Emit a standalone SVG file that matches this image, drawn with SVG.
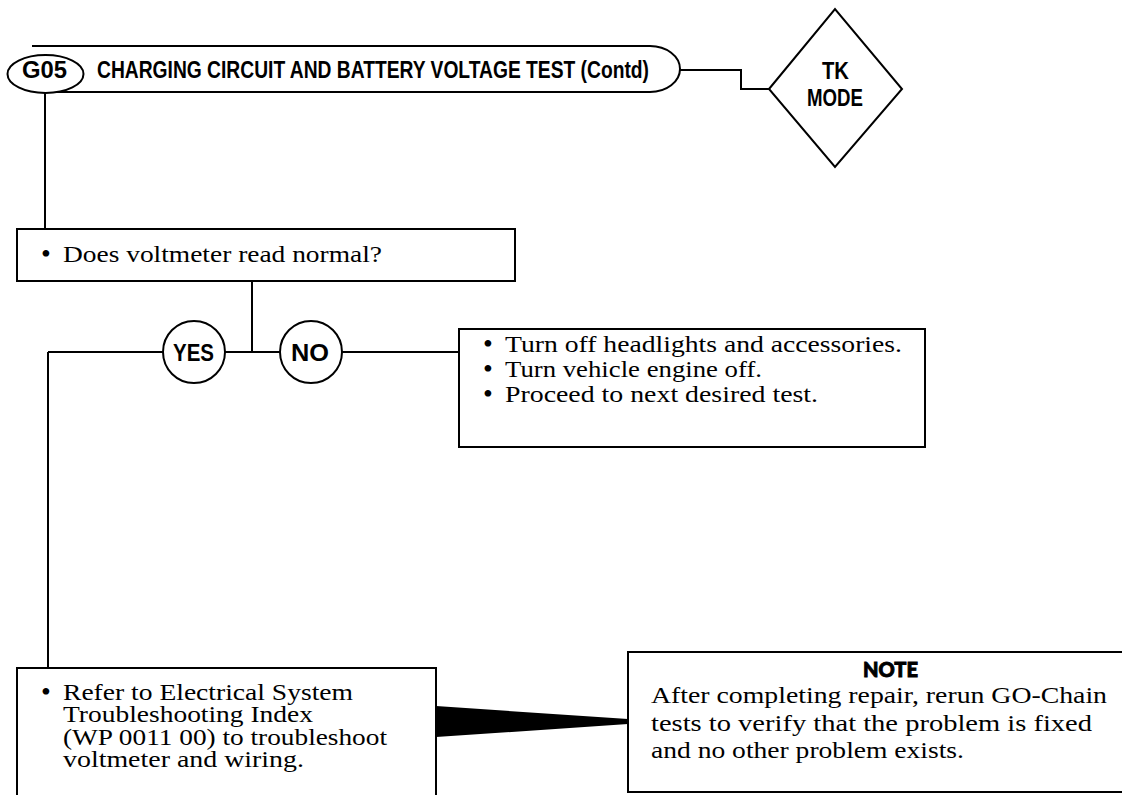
<svg xmlns="http://www.w3.org/2000/svg" width="1122" height="795" viewBox="0 0 1122 795">
<style>
.ln{fill:none;stroke:#000;stroke-width:2}
.box{fill:#fff;stroke:#000;stroke-width:2}
.hd{font-family:"Liberation Sans",Arial,sans-serif;font-weight:bold;font-size:24px;fill:#000}
.tx{font-family:"Liberation Serif","Times New Roman",serif;font-size:23px;fill:#000}
.bl{font-size:28px}
.nt{font-family:Lato,"Liberation Sans",sans-serif;font-weight:900;font-size:21px;fill:#000;stroke:#000;stroke-width:0.9}
</style>
<rect width="1122" height="795" fill="#fff"/>
<g id="connectors">
<path class="ln" d="M680 70 H741 V89 H769"/>
<path class="ln" d="M45 92 V229"/>
<path class="ln" d="M252 281 V352"/>
<path class="ln" d="M48 352 H459"/>
<path class="ln" d="M48 352 V668"/>
<polygon points="436,706 628,719 628,724 436,737" fill="#000"/>
</g>
<g id="header">
<path class="box" d="M32 46 H650 A30 23 0 0 1 650 92 H40"/>
<ellipse class="box" cx="45.5" cy="74" rx="38" ry="19"/>
<text class="hd" x="22" y="78" textLength="45" lengthAdjust="spacingAndGlyphs">G05</text>
<text class="hd" x="97" y="78" textLength="552" lengthAdjust="spacingAndGlyphs">CHARGING CIRCUIT AND BATTERY VOLTAGE TEST (Contd)</text>
</g>
<g id="tk-mode">
<polygon class="box" points="769,89 835,9 902,89 835,167"/>
<text class="hd" x="822" y="79" textLength="27" lengthAdjust="spacingAndGlyphs">TK</text>
<text class="hd" x="807" y="106" textLength="56" lengthAdjust="spacingAndGlyphs">MODE</text>
</g>
<g id="question">
<rect class="box" x="17" y="229" width="498" height="52"/>
<text class="tx" y="262"><tspan class="bl" x="41" y="263">•</tspan><tspan x="63" y="262" textLength="319" lengthAdjust="spacingAndGlyphs">Does voltmeter read normal?</tspan></text>
</g>
<g id="yes">
<circle class="box" cx="194" cy="352" r="31"/>
<text class="hd" x="173" y="361" textLength="41" lengthAdjust="spacingAndGlyphs">YES</text>
</g>
<g id="no">
<circle class="box" cx="311" cy="352" r="31"/>
<text class="hd" x="291" y="361" textLength="38" lengthAdjust="spacingAndGlyphs">NO</text>
</g>
<g id="no-action">
<rect class="box" x="459" y="329" width="466" height="118"/>
<text class="tx"><tspan class="bl" x="483" y="353">•</tspan><tspan x="505" y="352" textLength="397" lengthAdjust="spacingAndGlyphs">Turn off headlights and accessories.</tspan></text>
<text class="tx"><tspan class="bl" x="483" y="378">•</tspan><tspan x="505" y="377" textLength="257" lengthAdjust="spacingAndGlyphs">Turn vehicle engine off.</tspan></text>
<text class="tx"><tspan class="bl" x="483" y="403">•</tspan><tspan x="505" y="402" textLength="313" lengthAdjust="spacingAndGlyphs">Proceed to next desired test.</tspan></text>
</g>
<g id="yes-action">
<path class="box" d="M17 800 V668 H436 V800"/>
<text class="tx"><tspan class="bl" x="41" y="701">•</tspan><tspan x="63" y="700" textLength="290" lengthAdjust="spacingAndGlyphs">Refer to Electrical System</tspan><tspan x="63" y="722" textLength="250" lengthAdjust="spacingAndGlyphs">Troubleshooting Index</tspan><tspan x="63" y="745" textLength="324" lengthAdjust="spacingAndGlyphs">(WP 0011 00) to troubleshoot</tspan><tspan x="63" y="767" textLength="241" lengthAdjust="spacingAndGlyphs">voltmeter and wiring.</tspan></text>
</g>
<g id="note">
<rect class="box" x="628" y="652" width="500" height="140"/>
<text class="nt" x="863" y="677" textLength="55" lengthAdjust="spacingAndGlyphs">NOTE</text>
<text class="tx"><tspan x="651" y="703" textLength="456" lengthAdjust="spacingAndGlyphs">After completing repair, rerun GO-Chain</tspan><tspan x="651" y="731" textLength="441" lengthAdjust="spacingAndGlyphs">tests to verify that the problem is fixed</tspan><tspan x="651" y="758" textLength="313" lengthAdjust="spacingAndGlyphs">and no other problem exists.</tspan></text>
</g>
</svg>
